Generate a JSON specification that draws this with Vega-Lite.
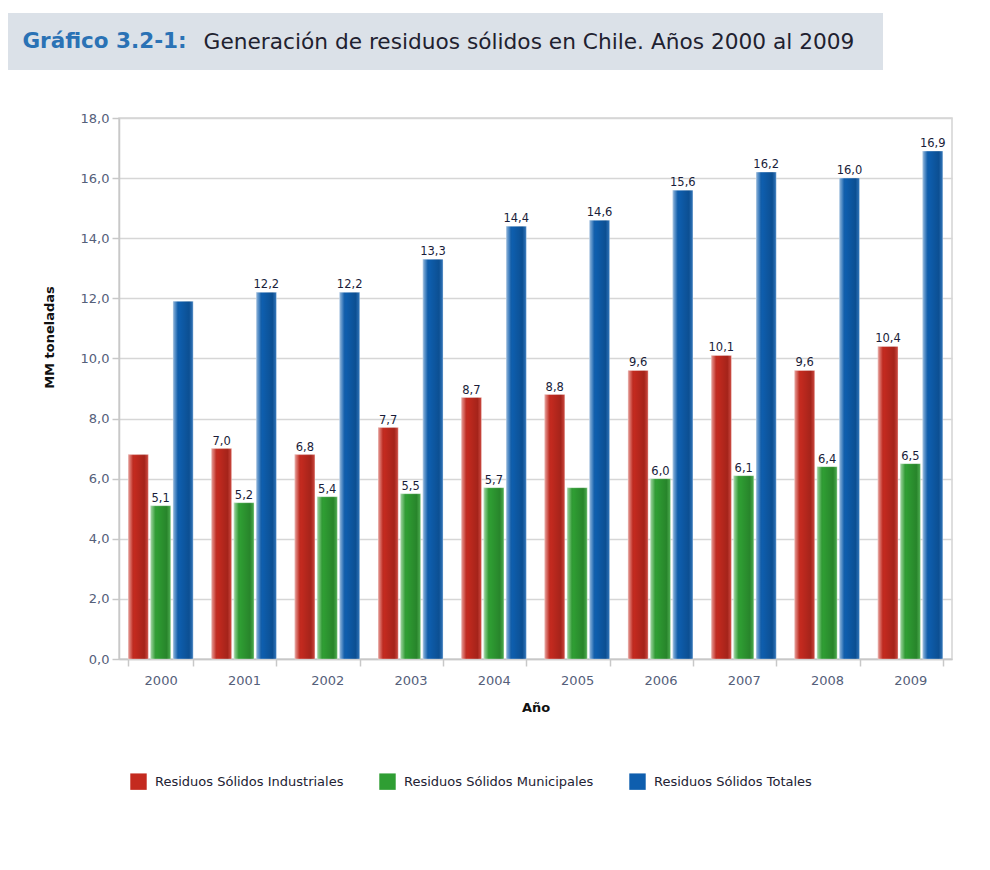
{
  "$schema": "https://vega.github.io/schema/vega-lite/v6.json",
  "background": "white",
  "padding": {"left": 8, "top": 13, "right": 0, "bottom": 0},
  "config": {
    "locale": {"number": {"decimal": ",", "thousands": ".", "grouping": [3], "currency": ["$", ""]}},
    "font": "DejaVu Sans",
    "view": {"stroke": null}
  },
  "datasets": {
    "residuos": [
      {"anio": "2000", "serie": "Residuos Sólidos Industriales", "valor": 6.8, "etiqueta": false},
      {"anio": "2000", "serie": "Residuos Sólidos Municipales", "valor": 5.1, "etiqueta": true},
      {"anio": "2000", "serie": "Residuos Sólidos Totales", "valor": 11.9, "etiqueta": false},
      {"anio": "2001", "serie": "Residuos Sólidos Industriales", "valor": 7.0, "etiqueta": true},
      {"anio": "2001", "serie": "Residuos Sólidos Municipales", "valor": 5.2, "etiqueta": true},
      {"anio": "2001", "serie": "Residuos Sólidos Totales", "valor": 12.2, "etiqueta": true},
      {"anio": "2002", "serie": "Residuos Sólidos Industriales", "valor": 6.8, "etiqueta": true},
      {"anio": "2002", "serie": "Residuos Sólidos Municipales", "valor": 5.4, "etiqueta": true},
      {"anio": "2002", "serie": "Residuos Sólidos Totales", "valor": 12.2, "etiqueta": true},
      {"anio": "2003", "serie": "Residuos Sólidos Industriales", "valor": 7.7, "etiqueta": true},
      {"anio": "2003", "serie": "Residuos Sólidos Municipales", "valor": 5.5, "etiqueta": true},
      {"anio": "2003", "serie": "Residuos Sólidos Totales", "valor": 13.3, "etiqueta": true},
      {"anio": "2004", "serie": "Residuos Sólidos Industriales", "valor": 8.7, "etiqueta": true},
      {"anio": "2004", "serie": "Residuos Sólidos Municipales", "valor": 5.7, "etiqueta": true},
      {"anio": "2004", "serie": "Residuos Sólidos Totales", "valor": 14.4, "etiqueta": true},
      {"anio": "2005", "serie": "Residuos Sólidos Industriales", "valor": 8.8, "etiqueta": true},
      {"anio": "2005", "serie": "Residuos Sólidos Municipales", "valor": 5.7, "etiqueta": false},
      {"anio": "2005", "serie": "Residuos Sólidos Totales", "valor": 14.6, "etiqueta": true},
      {"anio": "2006", "serie": "Residuos Sólidos Industriales", "valor": 9.6, "etiqueta": true},
      {"anio": "2006", "serie": "Residuos Sólidos Municipales", "valor": 6.0, "etiqueta": true},
      {"anio": "2006", "serie": "Residuos Sólidos Totales", "valor": 15.6, "etiqueta": true},
      {"anio": "2007", "serie": "Residuos Sólidos Industriales", "valor": 10.1, "etiqueta": true},
      {"anio": "2007", "serie": "Residuos Sólidos Municipales", "valor": 6.1, "etiqueta": true},
      {"anio": "2007", "serie": "Residuos Sólidos Totales", "valor": 16.2, "etiqueta": true},
      {"anio": "2008", "serie": "Residuos Sólidos Industriales", "valor": 9.6, "etiqueta": true},
      {"anio": "2008", "serie": "Residuos Sólidos Municipales", "valor": 6.4, "etiqueta": true},
      {"anio": "2008", "serie": "Residuos Sólidos Totales", "valor": 16.0, "etiqueta": true},
      {"anio": "2009", "serie": "Residuos Sólidos Industriales", "valor": 10.4, "etiqueta": true},
      {"anio": "2009", "serie": "Residuos Sólidos Municipales", "valor": 6.5, "etiqueta": true},
      {"anio": "2009", "serie": "Residuos Sólidos Totales", "valor": 16.9, "etiqueta": true}
    ]
  },
  "spacing": 41,
  "vconcat": [
    {
      "spacing": 0,
      "bounds": "flush",
      "hconcat": [
        {
          "width": 193, "height": 57,
          "view": {"fill": "#dbe1e8", "stroke": null},
          "data": {"values": [{"t": "Gráfico 3.2-1:"}]},
          "mark": {"type": "text", "font": "DejaVu Sans", "fontSize": 21.5, "fontWeight": "bold", "color": "#2a72b5"},
          "encoding": {"text": {"field": "t"}}
        },
        {
          "width": 656, "height": 57,
          "view": {"fill": "#dbe1e8", "stroke": null},
          "data": {"values": [{"t": "Generación de residuos sólidos en Chile. Años 2000 al 2009"}]},
          "mark": {"type": "text", "font": "DejaVu Sans", "fontSize": 21.7, "color": "#1f2230"},
          "encoding": {"text": {"field": "t"}}
        },
        {
          "width": 26, "height": 57,
          "view": {"fill": "#dbe1e8", "stroke": null},
          "data": {"values": []},
          "mark": "point"
        }
      ]
    },
    {
      "spacing": 0,
      "hconcat": [
        {
          "width": 34, "height": 20,
          "data": {"values": []},
          "mark": "point"
        },
        {
          "width": 833, "height": 541,
          "data": {"name": "residuos"},
          "view": {"stroke": "#d4d4d4", "strokeWidth": 1.5},
          "encoding": {
            "x": {
              "field": "anio", "type": "ordinal", "title": "Año",
              "scale": {"paddingInner": 0.22, "paddingOuter": 0.11},
              "axis": {
                "labelAngle": 0, "labelColor": "#55607a", "labelFontSize": 13, "labelPadding": 8,
                "tickBand": "extent", "tickSize": 7, "tickColor": "#c8c8c8", "tickWidth": 1.5,
                "domainColor": "#c8c8c8", "domainWidth": 1.5,
                "titleFontWeight": "bold", "titleFontSize": 13, "titleColor": "#111111", "titlePadding": 14
              }
            },
            "xOffset": {
              "field": "serie", "type": "nominal",
              "scale": {"domain": ["Residuos Sólidos Industriales", "Residuos Sólidos Municipales", "Residuos Sólidos Totales"], "paddingInner": 0.1}
            },
            "y": {
              "field": "valor", "type": "quantitative", "title": "MM toneladas",
              "scale": {"domain": [0, 18], "nice": false},
              "axis": {
                "values": [0, 2, 4, 6, 8, 10, 12, 14, 16, 18], "format": ".1f",
                "grid": true, "gridColor": "#d6d6d6", "gridWidth": 1.5,
                "domainColor": "#c8c8c8", "domainWidth": 1.5,
                "tickColor": "#c8c8c8", "tickSize": 7, "tickWidth": 1.5,
                "labelColor": "#55607a", "labelFontSize": 13, "labelPadding": 3,
                "titleFontWeight": "bold", "titleFontSize": 13, "titleColor": "#111111",
                "titlePadding": 24, "titleY": 219
              }
            }
          },
          "layer": [
            {
              "mark": {"type": "bar", "stroke": "#ffffff", "strokeOpacity": 0.35, "strokeWidth": 1},
              "encoding": {
                "color": {
                  "field": "serie", "type": "nominal",
                  "scale": {
                    "domain": ["Residuos Sólidos Industriales", "Residuos Sólidos Municipales", "Residuos Sólidos Totales"],
                    "range": ["#c42a1f", "#2f9e33", "#0e5eae"]
                  },
                  "legend": {
                    "title": null, "orient": "none", "direction": "horizontal",
                    "legendX": 122, "legendY": 760,
                    "symbolType": "square", "symbolSize": 270, "symbolStrokeWidth": 0,
                    "labelFontSize": 13, "labelColor": "#222233", "labelOffset": 8, "labelLimit": 0,
                    "columnPadding": 35
                  }
                }
              }
            },
            {
              "mark": {
                "type": "bar",
                "fill": {
                  "gradient": "linear", "x1": 0, "x2": 1, "y1": 0, "y2": 0,
                  "stops": [
                    {"offset": 0, "color": "rgba(255,255,255,0.55)"},
                    {"offset": 0.18, "color": "rgba(255,255,255,0.15)"},
                    {"offset": 0.3, "color": "rgba(0,0,0,0)"},
                    {"offset": 0.8, "color": "rgba(0,0,0,0.16)"},
                    {"offset": 1, "color": "rgba(255,255,255,0.15)"}
                  ]
                }
              }
            },
            {
              "transform": [{"filter": "datum.etiqueta"}],
              "mark": {"type": "text", "baseline": "bottom", "dy": -2, "fontSize": 11.5, "color": "#1a1d3a"},
              "encoding": {"text": {"field": "valor", "type": "quantitative", "format": ".1f"}}
            }
          ]
        }
      ]
    }
  ]
}
